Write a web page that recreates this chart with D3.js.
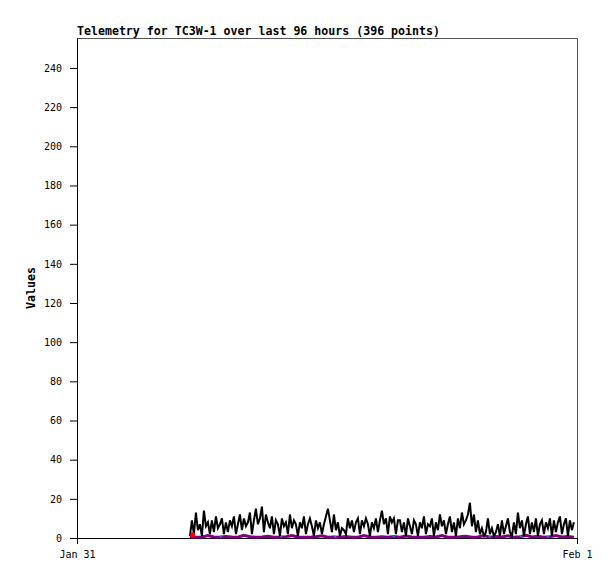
<!DOCTYPE html>
<html>
<head>
	<title>Telemetry chart</title>
	<script src="https://d3js.org/d3.v7.min.js"></script>
	<style>
		body { margin: 0; background: #fff; }
		text { font-family: "DejaVu Sans Mono", monospace; }
	</style>
</head>
<body>
	<script type="text/javascript">
		// chart text
		var title = "Telemetry for TC3W-1 over last 96 hours (396 points)";
		var yLabel = "Values";
		var xTickLabels = ["Jan 31", "Feb 1"];
		var xTickHours = [0, 24];
		var yTicks = [0, 20, 40, 60, 80, 100, 120, 140, 160, 180, 200, 220, 240];

		// main series (black), sampled every 0.096 h starting at 5.42 h
		var startHour = 5.42;
		var stepHour = 0.096;
		var mainValues = [
			1, 9, 2, 13, 4, 7, 1, 14, 6, 8, 2, 9, 3, 11, 5, 7, 10, 2, 8, 3, 9, 6, 11, 2, 7, 12, 4, 10, 6, 8, 13, 2, 9, 15, 7,
			10, 16, 3, 12, 8, 5, 11, 2, 9, 7, 1, 10, 6, 8, 2, 12, 5, 9, 7, 1, 8, 5, 11, 2, 7, 10, 6, 1, 9, 5, 8, 2, 7, 11, 15,
			9, 3, 12, 4, 8, 1, 5, 4, 2, 10, 5, 9, 3, 8, 10, 2, 9, 6, 10, 7, 1, 8, 5, 10, 3, 9, 14, 7, 10, 2, 11, 8, 10, 2, 9,
			9, 3, 8, 1, 10, 6, 2, 9, 7, 1, 8, 5, 11, 2, 7, 6, 10, 1, 8, 4, 12, 6, 9, 2, 7, 11, 3, 8, 1, 10, 5, 13, 7, 9, 12,
			18, 6, 12, 3, 9, 2, 5, 1, 3, 10, 2, 5, 1, 3, 7, 1, 9, 2, 6, 10, 3, 1, 8, 2, 13, 5, 9, 1, 7, 11, 2, 8, 3, 10, 1,
			7, 9, 2, 8, 5, 10, 1, 9, 3, 8, 11, 2, 7, 10, 1, 9, 4, 8
		];

		// secondary series (purple), sampled every 0.288 h
		var purpleStep = 0.288;
		var purpleValues = [
			0.8, 0.4, 0.5, 1.2, 0.5, 0.4, 0.7, 0.5, 0.4, 1.4, 0.6, 0.4, 0.5, 0.9, 0.4, 0.4, 0.7, 1.2, 0.5, 0.4,
			0.4, 0.6, 1.1, 0.4, 0.5, 0.4, 0.7, 0.4, 0.4, 1.2, 0.5, 0.4, 0.6, 0.4, 0.7, 0.4, 1, 0.5, 0.4, 0.4,
			0.7, 0.5, 1.3, 0.4, 0.4, 0.6, 0.9, 0.4, 0.5, 1.2, 0.4, 0.7, 0.5, 1.1, 0.4, 0.6, 1.4, 0.5, 0.9, 0.4,
			0.7, 1.2, 0.5, 0.8, 0.4
		];

		// scattered blue points
		var blueHours = [6.9, 9.8, 12.4, 15.2, 19.8, 21.3, 22.6];
		var blueValues = [0.8, 0.7, 0.6, 0.9, 0.7, 0.8, 0.6];

		// red marker at start
		var redHours = [5.55];
		var redValues = [1.6];

		var width = 615, height = 579;
		var plotLeft = 77, plotRight = 577, plotTop = 38, plotBottom = 538;

		var x = d3.scaleLinear().domain([0, 24]).range([plotLeft, plotRight]);
		var y = d3.scaleLinear().domain([0, 255.3]).range([plotBottom, plotTop]);

		var svg = d3.select("body").append("svg")
			.attr("width", width)
			.attr("height", height);

		// frame: top and right in gray
		svg.append("path")
			.attr("d", "M" + plotLeft + "," + (plotTop + 0.5) + "H" + (plotRight + 0.5) + "V" + plotBottom)
			.attr("fill", "none")
			.attr("stroke", "#555")
			.attr("stroke-width", 1);

		// y axis
		var yAxis = svg.append("g").attr("transform", "translate(" + plotLeft + ",0)")
			.call(d3.axisLeft(y).tickValues(yTicks).tickSize(7).tickPadding(8).tickSizeOuter(0));
		yAxis.select(".domain").attr("stroke", "#000");
		yAxis.selectAll("line").attr("stroke", "#000");
		yAxis.selectAll("text").attr("font-size", 10).attr("font-family", "DejaVu Sans Mono").attr("fill", "#000");

		// x axis
		var xAxis = svg.append("g").attr("transform", "translate(0," + plotBottom + ")")
			.call(d3.axisBottom(x).tickValues(xTickHours)
				.tickFormat(function(d, i) { return xTickLabels[i]; })
				.tickSize(6).tickPadding(7).tickSizeOuter(0));
		xAxis.select(".domain").attr("stroke", "#000");
		xAxis.selectAll("line").attr("stroke", "#000");
		xAxis.selectAll("text").attr("font-size", 10).attr("font-family", "DejaVu Sans Mono").attr("fill", "#000");

		// purple series
		var purpleData = purpleValues.map(function(v, i) { return [startHour + i * purpleStep, v]; });
		svg.append("path")
			.datum(purpleData)
			.attr("fill", "none")
			.attr("stroke", "#800080")
			.attr("stroke-width", 3)
			.attr("d", d3.line().x(function(d) { return x(d[0]); }).y(function(d) { return y(d[1]); }));

		// blue points
		svg.selectAll("rect.blue")
			.data(blueHours)
			.enter().append("rect")
			.attr("class", "blue")
			.attr("x", function(d) { return x(d) - 1; })
			.attr("y", function(d, i) { return y(blueValues[i]) - 1; })
			.attr("width", 2).attr("height", 2)
			.attr("fill", "#1e7fd6");

		// main series
		var mainData = mainValues.map(function(v, i) { return [startHour + i * stepHour, v]; });
		svg.append("path")
			.datum(mainData)
			.attr("fill", "none")
			.attr("stroke", "#000")
			.attr("stroke-width", 2)
			.attr("d", d3.line().x(function(d) { return x(d[0]); }).y(function(d) { return y(d[1]); }));

		// red marker
		svg.selectAll("circle.red")
			.data(redHours)
			.enter().append("circle")
			.attr("class", "red")
			.attr("cx", function(d) { return x(d); })
			.attr("cy", function(d, i) { return y(redValues[i]); })
			.attr("r", 2.5)
			.attr("fill", "#ff0000");

		// title
		svg.append("text")
			.attr("x", plotLeft)
			.attr("y", 35)
			.attr("font-size", 11.6)
			.attr("font-weight", "bold")
			.text(title);

		// y label
		svg.append("text")
			.attr("transform", "translate(35," + ((plotTop + plotBottom) / 2) + ") rotate(-90)")
			.attr("text-anchor", "middle")
			.attr("font-size", 11.6)
			.attr("font-weight", "bold")
			.text(yLabel);
	</script>
</body>
</html>
